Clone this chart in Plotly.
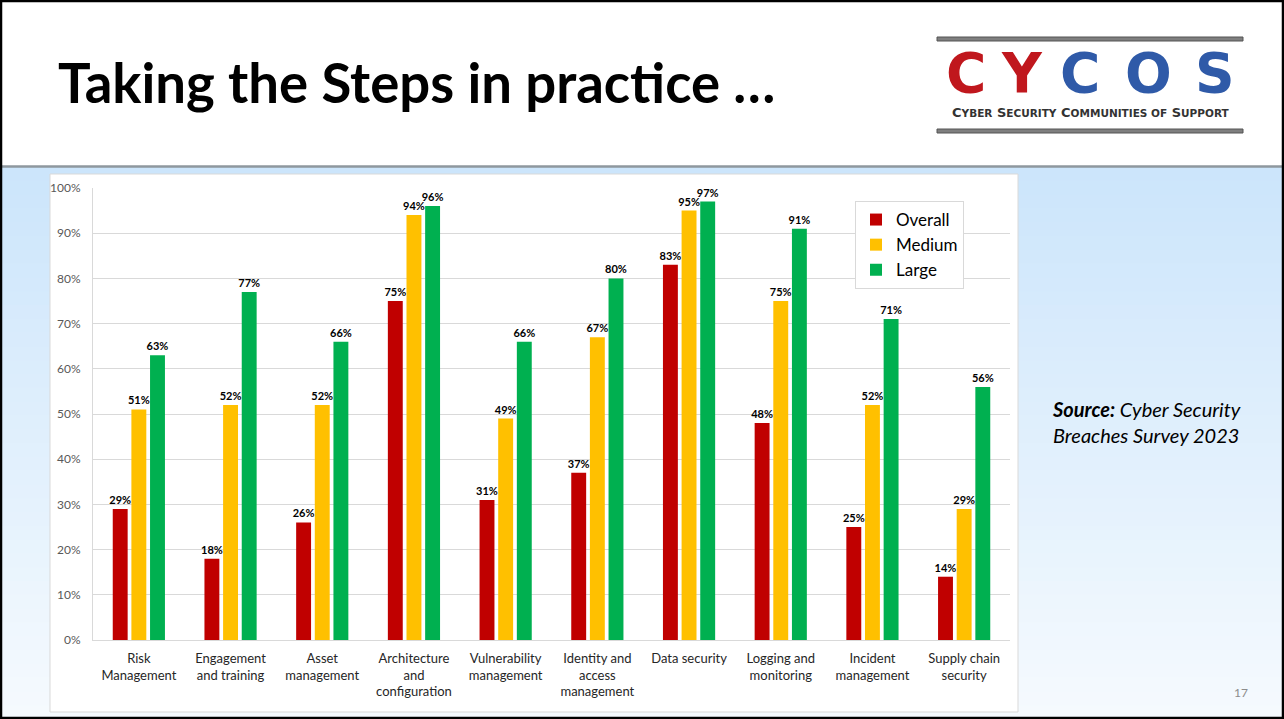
import plotly.graph_objects as go

categories = ["Risk<br>Management", "Engagement<br>and training", "Asset<br>management",
              "Architecture<br>and<br>configuration", "Vulnerability<br>management",
              "Identity and<br>access<br>management", "Data security", "Logging and<br>monitoring",
              "Incident<br>management", "Supply chain<br>security"]
overall = [29, 18, 26, 75, 31, 37, 83, 48, 25, 14]
medium = [51, 52, 52, 94, 49, 67, 95, 75, 52, 29]
large = [63, 77, 66, 96, 66, 80, 97, 91, 71, 56]
series_names = ["Overall", "Medium", "Large"]
colors = ["#C00000", "#FFC000", "#00B050"]

W, H = 1284, 719
def px(x): return x / W
def py(y): return 1 - y / H

FONT = "Lato"
fig = go.Figure()
for name, vals, col in zip(series_names, [overall, medium, large], colors):
    fig.add_trace(go.Bar(
        x=categories, y=vals, name=name, marker=dict(color=col, line=dict(width=0)),
        text=[f"{v}%" for v in vals], textposition="outside", cliponaxis=False,
        constraintext="none",
        textfont=dict(family=FONT, size=11, color="#000000", weight="bold"),
        hoverinfo="skip"))

shapes = []
shapes.append(dict(type="rect", xref="paper", yref="paper", x0=0, x1=1, y0=py(166), y1=1,
                   fillcolor="white", line=dict(width=0), layer="below"))
n = 40
top_c = (204, 229, 251)
bot_c = (245, 250, 254)
y_start, y_end = 167, 719
for i in range(n):
    t = i / (n - 1)
    c = tuple(int(round(top_c[k] + (bot_c[k] - top_c[k]) * t)) for k in range(3))
    ya = y_start + (y_end - y_start) * i / n
    yb = y_start + (y_end - y_start) * (i + 1) / n + 1
    shapes.append(dict(type="rect", xref="paper", yref="paper", x0=0, x1=1, y0=py(yb), y1=py(ya),
                       fillcolor=f"rgb{c}", line=dict(width=0), layer="below"))
shapes.append(dict(type="line", xref="paper", yref="paper", x0=0, x1=1, y0=py(166.5), y1=py(166.5),
                   line=dict(color="#8E979E", width=2.5), layer="below"))
shapes.append(dict(type="rect", xref="paper", yref="paper", x0=px(50), x1=px(1018), y0=py(712), y1=py(174),
                   fillcolor="white", line=dict(color="#D9D9D9", width=1), layer="below"))
for yb in (37, 129):
    shapes.append(dict(type="rect", xref="paper", yref="paper", x0=px(937), x1=px(1243), y0=py(yb + 4), y1=py(yb),
                       fillcolor="#7F7F7F", line=dict(color="#555555", width=1)))
shapes.append(dict(type="rect", xref="paper", yref="paper", x0=px(1), x1=px(1283), y0=py(718), y1=py(1),
                   line=dict(color="#000000", width=2.5), fillcolor="rgba(0,0,0,0)"))

annotations = []
annotations.append(dict(text="<b>Taking the Steps in practice …</b>", x=px(56), y=py(82), xref="paper", yref="paper",
                        xanchor="left", yanchor="middle", showarrow=False,
                        font=dict(family=FONT, size=54.5, color="#000000")))
for ch, cx, col in [("C", 966, "#C0171D"), ("Y", 1022, "#C0171D"), ("C", 1080, "#2F5AA8"),
                    ("O", 1148, "#2F5AA8"), ("S", 1215, "#2F5AA8")]:
    annotations.append(dict(text=f"<b>{ch}</b>", x=px(cx), y=py(73), xref="paper", yref="paper",
                            xanchor="center", yanchor="middle", showarrow=False,
                            font=dict(family="DejaVu Sans", size=55, color=col)))
annotations.append(dict(text="<b>C<span style='font-size:10.5px'>YBER</span> S<span style='font-size:10.5px'>ECURITY</span> "
                             "C<span style='font-size:10.5px'>OMMUNITIES OF</span> S<span style='font-size:10.5px'>UPPORT</span></b>",
                        x=px(1091), y=py(113), xref="paper", yref="paper", xanchor="center", yanchor="middle",
                        showarrow=False, font=dict(family="DejaVu Sans", size=13, color="#333333")))
annotations.append(dict(text="<b>Source:</b> Cyber Security<br>Breaches Survey 2023", x=px(1050), y=py(422),
                        xref="paper", yref="paper", xanchor="left", yanchor="middle", align="left",
                        showarrow=False, font=dict(family=FONT, size=20, color="#000000", style="italic")))
annotations.append(dict(text="17", x=px(1241), y=py(692), xref="paper", yref="paper", xanchor="center",
                        yanchor="middle", showarrow=False, font=dict(family=FONT, size=12, color="#8C8C8C")))

fig.update_layout(
    width=W, height=H, margin=dict(l=0, r=0, t=0, b=0, autoexpand=False),
    paper_bgcolor="white", plot_bgcolor="white",
    barmode="group", bargap=0.39, bargroupgap=0.2,
    shapes=shapes, annotations=annotations,
    xaxis=dict(domain=[px(93), px(1010)], showline=True, linecolor="#D9D9D9", linewidth=1,
               ticks="", tickfont=dict(family=FONT, size=13, color="#262626"), fixedrange=True,
               ticklabelstandoff=6, automargin=False),
    yaxis=dict(domain=[py(640), py(188)], range=[0, 100], dtick=10, ticksuffix="%",
               showgrid=True, gridcolor="#D9D9D9", gridwidth=1, showline=True, linecolor="#D9D9D9",
               zeroline=False, tickfont=dict(family=FONT, size=12, color="#595959"),
               ticklabelstandoff=9, fixedrange=True, automargin=False),
    legend=dict(x=px(855), y=py(201), xanchor="left", yanchor="top", bgcolor="white",
                bordercolor="#D9D9D9", borderwidth=1, font=dict(family=FONT, size=17, color="#000000"),
                tracegroupgap=0, itemsizing="constant"),
    font=dict(family=FONT),
)
fig.write_html("out.html", post_script="document.body.style.margin='0';")
